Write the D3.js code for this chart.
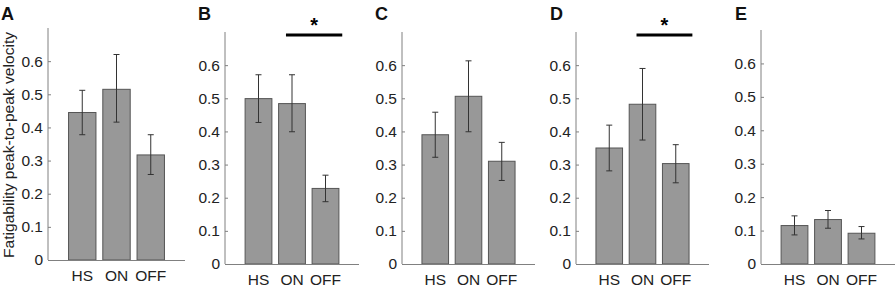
<!DOCTYPE html>
<html>
<head>
<meta charset="utf-8">
<script src="https://cdn.jsdelivr.net/npm/d3@7"></script>
<style>
  body { margin: 0; background: #fff; }
  svg { display: block; font-family: Arial, "Liberation Sans", sans-serif; }
</style>
</head>
<body>
<svg id="chart" width="896" height="287"></svg>
<script>
// groups on the x axis
const groups = ["HS", "ON", "OFF"];
const panelNames = ["A", "B", "C", "D", "E"];
const yTicks = [0, 0.1, 0.2, 0.3, 0.4, 0.5, 0.6];

// mean values per panel (HS, ON, OFF)
const meanA = [0.445, 0.515, 0.317];
const meanB = [0.499, 0.484, 0.228];
const meanC = [0.390, 0.506, 0.310];
const meanD = [0.350, 0.482, 0.303];
const meanE = [0.115, 0.133, 0.092];

// error bar lower / upper ends
const lowA = [0.378, 0.416, 0.258], highA = [0.512, 0.620, 0.378];
const lowB = [0.427, 0.399, 0.188], highB = [0.571, 0.571, 0.268];
const lowC = [0.322, 0.399, 0.252], highC = [0.458, 0.613, 0.367];
const lowD = [0.281, 0.374, 0.245], highD = [0.419, 0.590, 0.360];
const lowE = [0.087, 0.107, 0.075], highE = [0.144, 0.160, 0.112];

// significance marks: which panel, between which groups
const sigB = ["ON", "OFF"];
const sigD = ["ON", "OFF"];

const panels = [
  { name: "A", mean: meanA, low: lowA, high: highA, sig: null, x0: 48, w: 137, top: 28, base: 260, labelX: 1 },
  { name: "B", mean: meanB, low: lowB, high: highB, sig: sigB, x0: 225, w: 134, top: 32, base: 264, labelX: 198 },
  { name: "C", mean: meanC, low: lowC, high: highC, sig: null, x0: 402, w: 133, top: 32, base: 264, labelX: 375 },
  { name: "D", mean: meanD, low: lowD, high: highD, sig: sigD, x0: 576, w: 133, top: 32, base: 264, labelX: 550 },
  { name: "E", mean: meanE, low: lowE, high: highE, sig: null, x0: 761, w: 134, top: 30, base: 264, labelX: 735 }
];

const svg = d3.select("#chart");
const axisColor = "#808080";
const textColor = "#222";

panels.forEach(p => {
  const g = svg.append("g");

  // x in matlab-like units: bars at 1,2,3, limits 0..4
  const x = d3.scaleLinear().domain([0, 4]).range([p.x0, p.x0 + p.w]);
  const y = d3.scaleLinear().domain([0, 0.7]).range([p.base, p.top]);
  const pos = d => groups.indexOf(d) + 1;
  const bw = x(0.8) - x(0);

  // y axis
  const yAxis = g.append("g")
    .attr("transform", `translate(${p.x0},0)`)
    .call(d3.axisRight(y).tickValues(yTicks).tickSize(3).tickFormat(d3.format("")));
  yAxis.select(".domain").attr("stroke", axisColor).attr("d", `M0,${p.base}V${p.top}`);
  yAxis.selectAll(".tick line").attr("stroke", axisColor);
  yAxis.selectAll(".tick text")
    .attr("x", -5)
    .attr("text-anchor", "end")
    .attr("fill", textColor)
    .style("font-size", "15.5px")
    .style("font-family", "Arial, 'Liberation Sans', sans-serif");

  // bars
  g.selectAll("rect.bar")
    .data(groups)
    .join("rect")
    .attr("class", "bar")
    .attr("x", (d, i) => x(i + 1) - bw / 2)
    .attr("width", bw)
    .attr("y", (d, i) => y(p.mean[i]))
    .attr("height", (d, i) => y(0) - y(p.mean[i]))
    .attr("fill", "#989898")
    .attr("stroke", "#555")
    .attr("stroke-width", 1);

  // baseline (x axis line)
  g.append("line")
    .attr("x1", p.x0).attr("x2", p.x0 + p.w)
    .attr("y1", y(0) + 0.5).attr("y2", y(0) + 0.5)
    .attr("stroke", axisColor).attr("stroke-width", 1.2);

  // error bars
  const eb = g.selectAll("g.err")
    .data(groups)
    .join("g")
    .attr("class", "err")
    .attr("stroke", "#333")
    .attr("stroke-width", 1);
  eb.append("line")
    .attr("x1", (d, i) => x(i + 1)).attr("x2", (d, i) => x(i + 1))
    .attr("y1", (d, i) => y(p.low[i])).attr("y2", (d, i) => y(p.high[i]));
  eb.append("line")
    .attr("x1", (d, i) => x(i + 1) - 3).attr("x2", (d, i) => x(i + 1) + 3)
    .attr("y1", (d, i) => y(p.low[i])).attr("y2", (d, i) => y(p.low[i]));
  eb.append("line")
    .attr("x1", (d, i) => x(i + 1) - 3).attr("x2", (d, i) => x(i + 1) + 3)
    .attr("y1", (d, i) => y(p.high[i])).attr("y2", (d, i) => y(p.high[i]));

  // group labels
  g.selectAll("text.grp")
    .data(groups)
    .join("text")
    .attr("class", "grp")
    .attr("x", (d, i) => x(i + 1))
    .attr("y", p.base + 21)
    .attr("text-anchor", "middle")
    .attr("fill", textColor)
    .style("font-size", "15.5px")
    .text(d => d);

  // panel letter
  g.append("text")
    .attr("x", p.labelX)
    .attr("y", 20)
    .attr("fill", "#111")
    .style("font-size", "18px")
    .style("font-weight", "bold")
    .text(p.name);

  // significance bar
  if (p.sig) {
    const xa = x(pos(p.sig[0]) - 0.18);
    const xb = x(pos(p.sig[1]) + 0.5);
    g.append("line")
      .attr("x1", xa).attr("x2", xb)
      .attr("y1", p.top + 3).attr("y2", p.top + 3)
      .attr("stroke", "#000").attr("stroke-width", 3);
    g.append("text")
      .attr("x", (xa + xb) / 2)
      .attr("y", p.top)
      .attr("text-anchor", "middle")
      .style("font-size", "20px")
      .style("font-weight", "bold")
      .text("*");
  }
});

// y axis title
svg.append("text")
  .attr("transform", "translate(14,145) rotate(-90)")
  .attr("text-anchor", "middle")
  .attr("fill", textColor)
  .attr("textLength", 226)
  .attr("lengthAdjust", "spacingAndGlyphs")
  .style("font-size", "15.5px")
  .text("Fatigability peak-to-peak velocity");
</script>
</body>
</html>
